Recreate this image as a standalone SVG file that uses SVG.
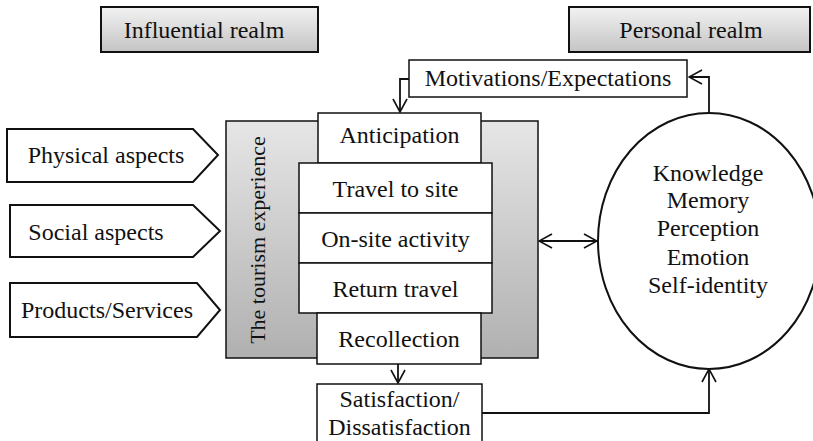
<svg xmlns="http://www.w3.org/2000/svg" width="813" height="441" viewBox="0 0 813 441">
  <style>
    .c { text-anchor: middle; }
    .box { fill: #fff; stroke: #111; stroke-width: 1.5; }
    .realm { fill: url(#realmFill); stroke: #111; stroke-width: 2; }
    .tag { fill: #fff; stroke: #111; stroke-width: 2; stroke-linejoin: miter; }
    .link { fill: none; stroke: #111; stroke-width: 1.8; }
  </style>
  <defs>
    <linearGradient id="realmFill" x1="0" y1="0" x2="0" y2="1">
      <stop offset="0" stop-color="#f2f2f2"/>
      <stop offset="1" stop-color="#c4c4c4"/>
    </linearGradient>
    <linearGradient id="expFill" x1="0" y1="0" x2="0" y2="1">
      <stop offset="0" stop-color="#e6e6e6"/>
      <stop offset="1" stop-color="#b0b0b0"/>
    </linearGradient>
    <marker id="open" viewBox="0 0 16 16" refX="15" refY="8" markerWidth="16" markerHeight="16" markerUnits="userSpaceOnUse" orient="auto-start-reverse">
      <path d="M2,1 L15,8 L2,15" fill="none" stroke="#111" stroke-width="1.6"/>
    </marker>
  </defs>

  <g font-family="'Liberation Serif', Tinos, 'Times New Roman', Times, serif" font-size="24" fill="#111">
  <!-- realm headers -->
  <g id="influential-realm">
    <rect class="realm" x="101" y="7" width="217" height="45"/>
    <text class="c" x="204" y="38">Influential realm</text>
  </g>
  <g id="personal-realm">
    <rect class="realm" x="569" y="7" width="241" height="45"/>
    <text class="c" x="691" y="38">Personal realm</text>
  </g>

  <!-- influence tags -->
  <g id="physical-aspects">
    <polygon class="tag" points="7,129 193,129 218,155 193,182 7,182"/>
    <text class="c" x="106" y="163">Physical aspects</text>
  </g>
  <g id="social-aspects">
    <polygon class="tag" points="10,205 193,205 220,231 193,257 10,257"/>
    <text class="c" x="96" y="240">Social aspects</text>
  </g>
  <g id="products-services">
    <polygon class="tag" points="10,283 197,283 220,310 197,337 10,337"/>
    <text class="c" x="107" y="318">Products/Services</text>
  </g>

  <!-- the tourism experience block -->
  <g id="tourism-experience">
    <rect x="226" y="121" width="312" height="237" fill="url(#expFill)" stroke="#111" stroke-width="1.5"/>
    <text class="c" x="265" y="240" transform="rotate(-90 265 240)" font-size="22">The tourism experience</text>
  </g>
  <g id="anticipation">
    <rect class="box" x="318" y="113" width="163" height="50"/>
    <text class="c" x="399.5" y="143">Anticipation</text>
  </g>
  <g id="travel-to-site">
    <rect class="box" x="299" y="163" width="193" height="50"/>
    <text class="c" x="395.5" y="197">Travel to site</text>
  </g>
  <g id="on-site-activity">
    <rect class="box" x="299" y="213" width="193" height="50"/>
    <text class="c" x="395.5" y="247">On-site activity</text>
  </g>
  <g id="return-travel">
    <rect class="box" x="299" y="263" width="193" height="50"/>
    <text class="c" x="395.5" y="297">Return travel</text>
  </g>
  <g id="recollection">
    <rect class="box" x="317" y="313" width="164" height="51"/>
    <text class="c" x="399" y="347">Recollection</text>
  </g>

  <!-- outcome and motivation boxes -->
  <g id="motivations-expectations">
    <rect class="box" x="409" y="60" width="278" height="37"/>
    <text class="c" x="548" y="86">Motivations/Expectations</text>
  </g>
  <g id="satisfaction">
    <rect class="box" x="317" y="384" width="165" height="62"/>
    <text class="c" x="399.5" y="407">Satisfaction/</text>
    <text class="c" x="399.5" y="435">Dissatisfaction</text>
  </g>

  <!-- personal realm ellipse -->
  <g id="personal-factors">
    <ellipse cx="709" cy="241" rx="111" ry="128" fill="#fff" stroke="#111" stroke-width="2"/>
    <text class="c" x="708" y="181">Knowledge</text>
    <text class="c" x="708" y="208">Memory</text>
    <text class="c" x="708" y="236">Perception</text>
    <text class="c" x="708" y="265">Emotion</text>
    <text class="c" x="708" y="293">Self-identity</text>
  </g>
  </g>

  <!-- connectors -->
  <g id="connectors">
    <path class="link" d="M409,79 H400 V112" marker-end="url(#open)"/>
    <path class="link" d="M709,113 V77 H689" marker-end="url(#open)"/>
    <path class="link" d="M398,364 V383" marker-end="url(#open)"/>
    <path class="link" d="M482,413 H709 V369" marker-end="url(#open)"/>
    <path class="link" d="M539,241 H597" marker-start="url(#open)" marker-end="url(#open)"/>
  </g>
</svg>
